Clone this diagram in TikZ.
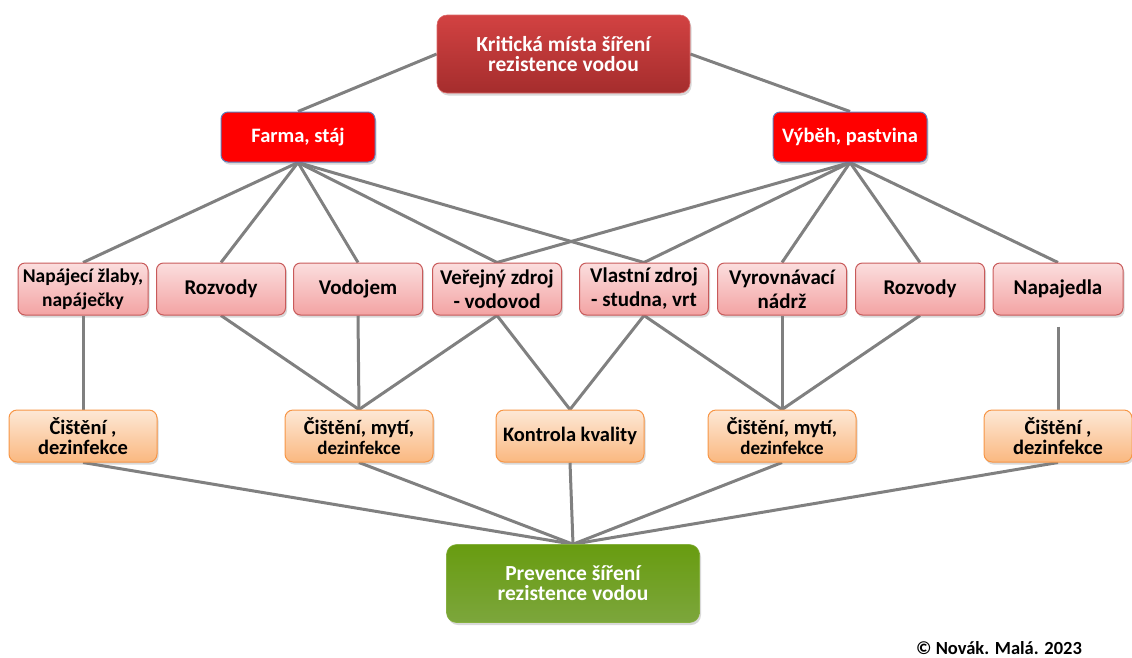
\documentclass[tikz,border=0pt]{standalone}
\usepackage{fontspec}
\setmainfont{Carlito}
\usetikzlibrary{shadows,backgrounds}

\definecolor{linegray}{RGB}{128,128,128}
\definecolor{topred1}{RGB}{210,66,66}
\definecolor{topred2}{RGB}{165,45,45}
\definecolor{pureRed}{RGB}{255,0,0}
\definecolor{redrim}{RGB}{95,125,185}
\definecolor{pink1}{RGB}{251,222,222}
\definecolor{pink2}{RGB}{243,163,163}
\definecolor{pinkrim}{RGB}{200,90,90}
\definecolor{orange1}{RGB}{253,232,214}
\definecolor{orange2}{RGB}{250,184,128}
\definecolor{orangerim}{RGB}{247,150,70}
\definecolor{green1}{RGB}{104,156,16}
\definecolor{green2}{RGB}{124,166,60}

\begin{document}
\begin{tikzpicture}[x=1pt,y=-1pt,
  every node/.style={align=center, inner sep=2pt},
  basebox/.style={rounded corners=7pt,
    drop shadow={opacity=0.3, shadow xshift=1.5pt, shadow yshift=-2.5pt}},
  headbox/.style={basebox, rounded corners=10pt, text=white,
    font=\bfseries\fontsize{21.5}{20}\selectfont,
    minimum width=253pt, minimum height=78pt},
  rootbox/.style={headbox, top color=topred1, bottom color=topred2,
    draw=topred1!80!white, line width=0.6pt},
  goalbox/.style={headbox, top color=green1, bottom color=green2,
    draw=green1!80!white, line width=0.6pt},
  sitebox/.style={basebox, fill=pureRed, draw=redrim, line width=1pt,
    text=white, font=\bfseries\fontsize{20.5}{22}\selectfont,
    minimum width=154pt, minimum height=50pt},
  sourcebox/.style={basebox, top color=pink1, bottom color=pink2,
    draw=pinkrim, line width=1pt, text=black,
    font=\bfseries\fontsize{21}{24}\selectfont,
    minimum width=129pt, minimum height=52pt},
  carebox/.style={basebox, rounded corners=8pt, top color=orange1,
    bottom color=orange2, draw=orangerim, line width=1pt, text=black,
    font=\bfseries\fontsize{20.5}{20}\selectfont,
    minimum width=148pt, minimum height=52pt},
  link/.style={draw=linegray, line width=3pt}
]
\useasboundingbox (0,0) rectangle (1132,657);

% top level
\node[rootbox] (root) at (563.5,54) {Kritická místa šíření\\rezistence vodou};

% places
\node[sitebox] (farm) at (298,137) {Farma, stáj};
\node[sitebox] (pasture) at (850,137) {Výběh, pastvina};

% water sources and distribution
\node[sourcebox, minimum width=130pt, font=\bfseries\fontsize{19.5}{24}\selectfont]
  (s1) at (83,289) {Napájecí žlaby,\\napáječky};
\node[sourcebox] (s2) at (221,289) {Rozvody};
\node[sourcebox] (s3) at (358,289) {Vodojem};
\node[sourcebox] (s4) at (497,289) {Veřejný zdroj\\- vodovod};
\node[sourcebox] (s5) at (644,289) {Vlastní zdroj\\- studna, vrt};
\node[sourcebox] (s6) at (782,289) {Vyrovnávací\\nádrž};
\node[sourcebox] (s7) at (920,289) {Rozvody};
\node[sourcebox, minimum width=130pt] (s8) at (1058,289) {Napajedla};

% measures
\node[carebox] (c1) at (83,436) {Čištění ,\\dezinfekce};
\node[carebox] (c2) at (359,436) {Čištění, mytí,\\{\fontsize{19}{20}\selectfont dezinfekce}};
\node[carebox] (c3) at (570,436) {Kontrola kvality};
\node[carebox] (c4) at (782,436) {Čištění, mytí,\\{\fontsize{19}{20}\selectfont dezinfekce}};
\node[carebox] (c5) at (1058,436) {Čištění ,\\dezinfekce};

% outcome
\node[goalbox] (goal) at (573,583.5) {Prevence šíření\\rezistence vodou};

% credit
\node[font=\bfseries\fontsize{18.5}{20}\selectfont] (credit) at (999,648) {© Novák. Malá. 2023};

\begin{pgfonlayer}{background}
  \draw[link] (root.west) -- (farm.north);
  \draw[link] (root.east) -- (pasture.north);
  \foreach \s in {s1,s2,s3,s4,s5}
    \draw[link] (farm.south) -- (\s.north);
  \foreach \s in {s4,s5,s6,s7,s8}
    \draw[link] (pasture.south) -- (\s.north);
  \draw[link] (s1.south) -- (c1.north);
  \draw[link] (s2.south) -- (c2.north);
  \draw[link] (s3.south) -- (c2.north);
  \draw[link] (s4.south) -- (c2.north);
  \draw[link] (s4.south) -- (c3.north);
  \draw[link] (s5.south) -- (c3.north);
  \draw[link] (s5.south) -- (c4.north);
  \draw[link] (s6.south) -- (c4.north);
  \draw[link] (s7.south) -- (c4.north);
  \draw[link, shorten <=11pt] (s8.south) -- (c5.north);
  \foreach \c in {c1,c2,c3,c4,c5}
    \draw[link] (\c.south) -- (goal.north);
\end{pgfonlayer}
\end{tikzpicture}
\end{document}
